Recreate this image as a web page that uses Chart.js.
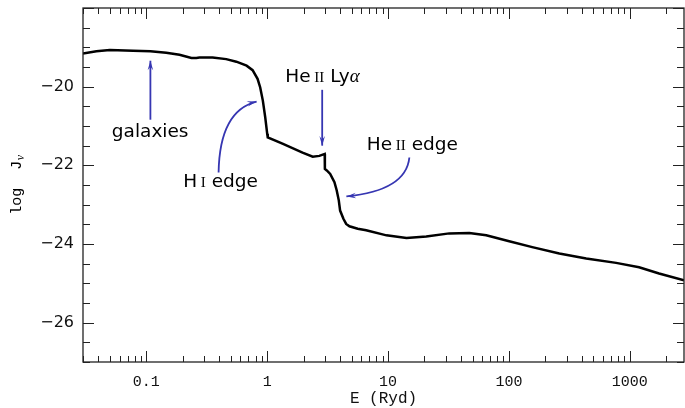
<!DOCTYPE html>
<html>
<head>
<meta charset="utf-8">
<script src="https://cdn.jsdelivr.net/npm/chart.js@4.4.1/dist/chart.umd.min.js"></script>
<style>
  html, body { margin: 0; padding: 0; background: #fff; }
  #wrap { width: 685px; height: 408px; }
</style>
</head>
<body>
<div id="wrap"><canvas id="uvb"></canvas></div>
<script>
// photon energy in Ryd and log J_nu
const energy = [0.0299, 0.0386, 0.0498, 0.0775, 0.108, 0.146, 0.188, 0.236, 0.259, 0.275, 0.353, 0.458, 0.555, 0.675,
  0.757, 0.832, 0.875, 0.92, 0.963, 1.0, 1.01, 1.337, 1.96, 2.38, 2.70, 2.92, 2.99, 3.0, 3.11, 3.32, 3.60, 3.76, 3.91,
  4.01, 4.27, 4.50, 4.79, 5.61, 6.59, 9.69, 14.2, 20.7, 32.1, 47.0, 64.9, 100.5, 156, 261, 436, 771, 1194, 1747, 2812];
const logJ = [-19.155, -19.10, -19.07, -19.086, -19.10, -19.137, -19.19, -19.27, -19.27, -19.256, -19.256, -19.30, -19.365, -19.467,
  -19.58, -19.80, -20.02, -20.355, -20.78, -21.2, -21.29, -21.45, -21.675, -21.78, -21.76, -21.72, -21.71, -22.09, -22.13, -22.22, -22.43, -22.64, -22.89,
  -23.15, -23.36, -23.49, -23.55, -23.61, -23.65, -23.78, -23.85, -23.81, -23.73, -23.72, -23.78, -23.93, -24.08, -24.24, -24.37, -24.48, -24.59, -24.75, -24.92];

const xLabels = [0.1, 1, 10, 100, 1000];
const yLabels = [-26, -24, -22, -20];

const sans = '18.5px "DejaVu Sans"';
const smallCap = '15px "Liberation Serif"';
const greek = 'italic 19px "Liberation Serif"';
const arrowColor = '#3636b2';

// labels and arrows, placed in data coordinates
const notes = [
  { x: 0.1075, y: -21.27, parts: [['galaxies', sans]] },
  { x: 0.411, y: -22.56, parts: [['H', sans], [' I', smallCap], [' edge', sans]] },
  { x: 2.87, y: -19.87, parts: [['He', sans], [' II', smallCap], [' Ly', sans], ['\u03B1', greek]] },
  { x: 15.9, y: -21.60, parts: [['He', sans], [' II', smallCap], [' edge', sans]] }
];
const arrows = [
  { from: [0.108, -20.84], ctrl: null, to: [0.108, -19.34] },
  { from: [0.396, -22.18], ctrl: [0.404, -20.61], to: [0.817, -20.38] },
  { from: [2.85, -20.08], ctrl: null, to: [2.85, -21.5] },
  { from: [15.0, -21.80], ctrl: [14.1, -22.64], to: [4.52, -22.79] }
];

function drawRich(ctx, parts, cx, by) {
  let w = 0;
  const widths = parts.map(p => { ctx.font = p[1]; const m = ctx.measureText(p[0]).width; w += m; return m; });
  let x = cx - w / 2;
  parts.forEach((p, i) => { ctx.font = p[1]; ctx.fillText(p[0], x, by); x += widths[i]; });
}

const annotate = {
  id: 'annotate',
  afterDatasetsDraw(chart) {
    const { ctx, scales: { x, y } } = chart;
    const P = d => [x.getPixelForValue(d[0]), y.getPixelForValue(d[1])];
    ctx.save();
    ctx.fillStyle = '#000';
    ctx.textAlign = 'left';
    ctx.textBaseline = 'alphabetic';
    notes.forEach(n => drawRich(ctx, n.parts, x.getPixelForValue(n.x), y.getPixelForValue(n.y)));

    ctx.strokeStyle = arrowColor;
    ctx.fillStyle = arrowColor;
    ctx.lineWidth = 1.8;
    arrows.forEach(a => {
      const f = P(a.from), t = P(a.to);
      const c = a.ctrl ? P(a.ctrl) : f;
      ctx.beginPath();
      ctx.moveTo(f[0], f[1]);
      if (a.ctrl) ctx.quadraticCurveTo(c[0], c[1], t[0], t[1]);
      else ctx.lineTo(t[0], t[1]);
      ctx.stroke();
      const ang = Math.atan2(t[1] - c[1], t[0] - c[0]);
      const len = 10, spread = 0.28;
      ctx.beginPath();
      ctx.moveTo(t[0], t[1]);
      ctx.lineTo(t[0] - len * Math.cos(ang - spread), t[1] - len * Math.sin(ang - spread));
      ctx.lineTo(t[0] - len * 0.6 * Math.cos(ang), t[1] - len * 0.6 * Math.sin(ang));
      ctx.lineTo(t[0] - len * Math.cos(ang + spread), t[1] - len * Math.sin(ang + spread));
      ctx.closePath();
      ctx.fill();
    });
    ctx.restore();
  }
};

// box round the plot with inward ticks on all four sides
const frameTicks = {
  id: 'frameTicks',
  afterDraw(chart) {
    const { ctx, chartArea: a, scales: { x, y } } = chart;
    ctx.save();
    ctx.strokeStyle = '#222';
    ctx.lineWidth = 1.3;
    ctx.strokeRect(a.left, a.top, a.right - a.left, a.bottom - a.top);
    ctx.lineWidth = 1;
    ctx.beginPath();
    for (let d = -2; d <= 3; d++) {
      for (let m = 1; m <= 9; m++) {
        const v = m * Math.pow(10, d);
        if (v < x.min || v > x.max) continue;
        const px = Math.round(x.getPixelForValue(v)) + 0.5;
        const len = m === 1 ? 11 : 6;
        ctx.moveTo(px, a.bottom); ctx.lineTo(px, a.bottom - len);
        ctx.moveTo(px, a.top); ctx.lineTo(px, a.top + len);
      }
    }
    for (let v = -27; v <= -18; v += 0.5) {
      const py = Math.round(y.getPixelForValue(v)) + 0.5;
      const len = v % 2 === 0 ? 11 : 7;
      ctx.moveTo(a.left, py); ctx.lineTo(a.left + len, py);
      ctx.moveTo(a.right, py); ctx.lineTo(a.right - len, py);
    }
    ctx.stroke();

    // y title with the nu subscript
    ctx.fillStyle = '#000';
    ctx.translate(17, (a.top + a.bottom) / 2);
    ctx.rotate(-Math.PI / 2);
    ctx.textBaseline = 'middle';
    ctx.font = '15px "Liberation Mono"';
    const main = 'log  J';
    const w1 = ctx.measureText(main).width;
    ctx.font = 'italic 12px "Liberation Serif"';
    const w2 = ctx.measureText('\u03BD').width;
    const x0 = -(w1 + w2) / 2;
    ctx.font = '15px "Liberation Mono"';
    ctx.fillText(main, x0, 0);
    ctx.font = 'italic 12px "Liberation Serif"';
    ctx.fillText('\u03BD', x0 + w1 + 0.5, 4);
    ctx.restore();
  }
};

new Chart(document.getElementById('uvb'), {
  type: 'line',
  data: {
    datasets: [{
      data: energy.map((e, i) => ({ x: e, y: logJ[i] })),
      borderColor: '#000',
      borderWidth: 2.5,
      pointRadius: 0,
      tension: 0,
      fill: false
    }]
  },
  options: {
    responsive: true,
    maintainAspectRatio: false,
    animation: false,
    layout: { autoPadding: false, padding: { left: 0, right: 1, top: 8, bottom: 0 } },
    plugins: { legend: { display: false }, tooltip: { enabled: false } },
    scales: {
      x: {
        type: 'logarithmic',
        min: 0.0299,
        max: 2810,
        grid: { display: false, drawTicks: false },
        border: { display: false },
        afterBuildTicks: s => { s.ticks = xLabels.map(v => ({ value: v })); },
        afterFit: s => { s.height = 46; s.paddingLeft = 0; s.paddingRight = 0; },
        ticks: {
          autoSkip: false,
          maxRotation: 0,
          padding: 11,
          color: '#111',
          font: { family: 'Liberation Mono', size: 15 },
          callback: v => String(v)
        },
        title: {
          display: true,
          text: 'E (Ryd)',
          color: '#111',
          padding: { top: 0, bottom: 0 },
          font: { family: 'Liberation Mono', size: 16 }
        }
      },
      y: {
        min: -27,
        max: -18,
        grid: { display: false, drawTicks: false },
        border: { display: false },
        afterBuildTicks: s => { s.ticks = yLabels.map(v => ({ value: v })); },
        afterFit: s => { s.width = 83; s.paddingTop = 0; s.paddingBottom = 0; },
        ticks: {
          padding: 9,
          color: '#111',
          font: { family: 'DejaVu Sans', size: 16 },
          callback: v => '\u2212' + Math.abs(v)
        }
      }
    }
  },
  plugins: [annotate, frameTicks]
});
</script>
</body>
</html>
